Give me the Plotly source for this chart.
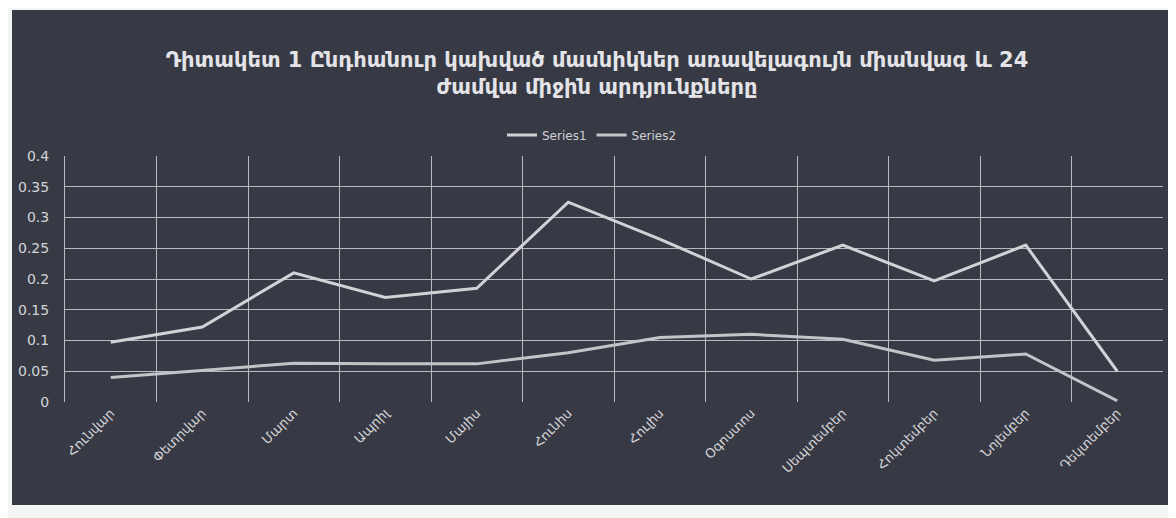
import plotly.graph_objects as go

months = ["Հունվար", "Փետրվար", "Մարտ", "Ապրիլ", "Մայիս", "Հունիս",
          "Հուլիս", "Օգոստոս", "Սեպտեմբեր", "Հոկտեմբեր", "Նոյեմբեր", "Դեկտեմբեր"]
series1 = [0.097, 0.122, 0.21, 0.17, 0.185, 0.325, 0.265, 0.2, 0.255, 0.197, 0.255, 0.05]
series2 = [0.04, 0.052, 0.063, 0.062, 0.062, 0.08, 0.105, 0.11, 0.102, 0.068, 0.078, 0.002]
y_ticks = [0, 0.05, 0.1, 0.15, 0.2, 0.25, 0.3, 0.35, 0.4]
y_labels = ["0", "0.05", "0.1", "0.15", "0.2", "0.25", "0.3", "0.35", "0.4"]
title_text = "<b>Դիտակետ 1 Ընդհանուր կախված մասնիկներ առավելագույն միանվագ և 24<br>ժամվա միջին արդյունքները</b>"

W, H = 1176, 518
OFF = 8  # page body margin
L, R, T, B = 65 - OFF, 1163 - OFF, 156 - OFF, 402 - OFF
pw, ph = R - L, B - T

fig = go.Figure()
fig.add_trace(go.Scatter(x=months, y=series1, mode="lines", name="Series1",
                         line=dict(color="#d2d2d6", width=3)))
fig.add_trace(go.Scatter(x=months, y=series2, mode="lines", name="Series2",
                         line=dict(color="#c2c4c8", width=3)))

def px(x):
    return (x - OFF - L) / pw

def py(y):
    return (B - (y - OFF)) / ph

fig.add_shape(type="rect", xref="paper", yref="paper",
              x0=px(12), x1=px(1168), y0=py(505), y1=py(10),
              fillcolor="#373a44", line=dict(width=0), layer="below")

fig.update_layout(
    width=W, height=H,
    margin=dict(l=L, r=W - R, t=T, b=H - B, pad=0, autoexpand=False),
    paper_bgcolor="#f3f4f4",
    plot_bgcolor="rgba(0,0,0,0)",
    font=dict(family="DejaVu Sans", color="#d8d8dc"),
    title=dict(text=title_text, x=(597 - OFF) / W, xanchor="center", xref="container",
               y=1 - (67 - OFF) / H, yanchor="middle", yref="container",
               font=dict(size=21, color="#e4e4e8", family="DejaVu Sans")),
    legend=dict(orientation="h", x=(592 - OFF) / W, xanchor="center", xref="container",
                y=1 - (135 - OFF) / H, yanchor="middle", yref="container",
                font=dict(size=12, color="#d0d0d4"), bgcolor="rgba(0,0,0,0)",
                itemwidth=30),
    showlegend=True,
)
fig.update_xaxes(type="category", tickson="boundaries", showgrid=True,
                 gridcolor="#b8bac0", gridwidth=1, showline=False, ticks="",
                 tickangle=-45, tickfont=dict(size=13, color="#d4d4d8"),
                 range=[-0.5, 11.5], zeroline=False, automargin=False)
fig.update_yaxes(range=[0, 0.4], tickvals=y_ticks, ticktext=y_labels,
                 showgrid=True, gridcolor="#b8bac0", gridwidth=1, zeroline=False,
                 showline=True, linecolor="#b8bac0", ticks="", ticklabelstandoff=12,
                 tickfont=dict(size=14, color="#d4d4d8"), automargin=False)

fig.write_html("out.html")
